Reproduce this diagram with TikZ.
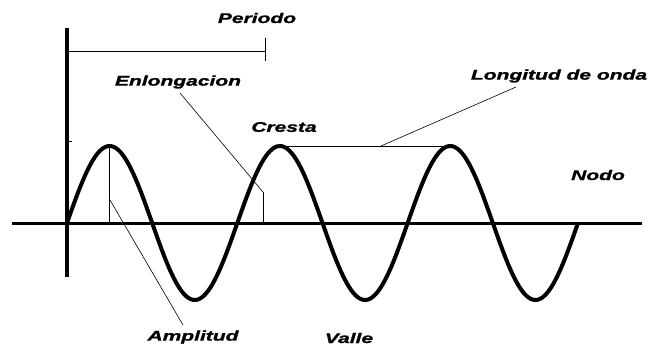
\documentclass[tikz,border=0pt]{standalone}
\usepackage{fontspec}
\newfontfamily\etiqfont[FakeStretch=1.5, FakeBold=1.5]{Liberation Sans}
\usetikzlibrary{calc}

\begin{document}
\begin{tikzpicture}[x=1pt, y=-1pt,
  eje/.style={line width=3pt},
  onda/.style={line width=4pt, line join=round},
  fina/.style={line width=0.9pt},
  guia/.style={line width=0.6pt},
  etiqueta/.style={font=\etiqfont\fontsize{14}{14}\selectfont\bfseries\itshape, inner sep=0pt},
]
  \useasboundingbox (0,0) rectangle (656,345);
  % ejes
  \coordinate (E1) at (12,223);
  \coordinate (E2) at (642,223);
  \coordinate (V1) at (67,28);
  \coordinate (V2) at (67,277);
  \draw[eje] (E1) -- (E2);
  \draw[eje, line width=4pt] (V1) -- (V2);
  \draw[fina] (67,141) -- (72,141);
  % onda: tres periodos (periodo 170.33)
  \draw[onda] plot[domain=67:578, samples=240]
    (\x, {223-77*sin((\x-67)*2.11354)});
  % crestas
  \coordinate (P1) at (109.6,146);
  \coordinate (P2) at (279.9,146);
  \coordinate (P3) at (450.2,146);
  % periodo
  \coordinate (T1) at (67,51);
  \coordinate (T2) at (265,51);
  \draw[fina] (T1) -- (T2);
  \draw[fina] ($(T2)+(0,-13)$) -- ($(T2)+(0,10)$);
  % amplitud
  \draw[fina] (P1) -- (109.6,223);
  \coordinate (A1) at (110,200);
  \coordinate (A2) at (183,325);
  \draw[guia] (A1) -- (A2);
  % elongacion
  \coordinate (L1) at (180,93);
  \coordinate (L2) at (263,192);
  \draw[fina] (L2) -- (263,223);
  \draw[guia] (L1) -- (L2);
  % longitud de onda
  \draw[fina] (P2) -- (P3);
  \coordinate (W1) at (381,146);
  \coordinate (W2) at (516,87);
  \draw[guia] (W1) -- (W2);
  % textos
  \node[etiqueta] (periodo) at (257,18) {Periodo};
  \node[etiqueta] (elong) at (178,82) {Enlongacion};
  \node[etiqueta] (cresta) at (284,127) {Cresta};
  \node[etiqueta] (longitud) at (559,76) {Longitud de onda};
  \node[etiqueta] (nodo) at (598,175) {Nodo};
  \node[etiqueta] (amplitud) at (193,337) {Amplitud};
  \node[etiqueta] (valle) at (349,338) {Valle};
\end{tikzpicture}
\end{document}
